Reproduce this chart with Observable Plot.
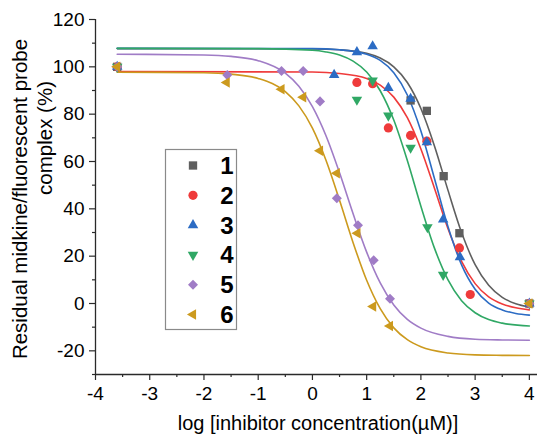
<!DOCTYPE html>
<html><head><meta charset="utf-8">
<script src="https://cdn.jsdelivr.net/npm/d3@7"></script>
<script src="https://cdn.jsdelivr.net/npm/@observablehq/plot@0.6"></script>
<style>
body{margin:0;background:#fff;font-family:"Liberation Sans",Arial,sans-serif;}
#chart{position:relative;width:537px;height:435px;}
</style></head><body><div id="chart"></div>
<script>
// ---- data ----
const seriesLabels = ["1", "2", "3", "4", "5", "6"];

// measured points (log concentration, residual %)
const px1 = [-3.6, 1.81, 2.11, 2.42, 2.71, 4.0];
const py1 = [100, 85.8, 81.4, 53.8, 29.7, 0];
const px2 = [-3.6, 0.82, 1.11, 1.40, 1.81, 2.11, 2.71, 2.91, 4.0];
const py2 = [100, 93.4, 92.9, 74.2, 71.0, 68.6, 23.5, 3.8, 0];
const px3 = [-3.6, 0.40, 0.82, 1.11, 1.40, 1.81, 2.11, 2.41, 2.72, 4.0];
const py3 = [100, 96.6, 106.2, 108.7, 91.1, 86.5, 68.1, 35.5, 19.6, 0];
const px4 = [-3.6, 0.82, 1.11, 1.40, 1.81, 2.12, 2.41, 4.0];
const py4 = [100, 86.1, 94.2, 79.4, 65.8, 32.2, 12.1, 0];
const px5 = [-3.6, -1.57, -0.57, -0.17, 0.14, 0.45, 0.84, 1.13, 1.43, 4.0];
const py5 = [100, 96.5, 98.2, 98.2, 85.4, 44.5, 33.1, 18.3, 2.0, 0];
const px6 = [-3.6, -1.58, -0.57, -0.17, 0.14, 0.45, 0.83, 1.12, 1.43, 4.0];
const py6 = [100, 93.4, 90.5, 87.2, 64.5, 55.0, 29.7, -1.3, -9.5, 0];

// fitted curves
const cx1 = [-3.6, 0, 0.5, 1, 1.25, 1.5, 1.75, 2, 2.25, 2.5, 2.75, 3, 3.25, 3.5, 3.75, 4];
const cy1 = [107.7, 107.6, 107.2, 105.7, 103.7, 100.0, 93.4, 82.4, 66.6, 47.8, 30.0, 16.4, 7.7, 2.6, -0.1, -1.5];
const cx2 = [-3.6, 0, 0.5, 1, 1.25, 1.5, 1.75, 2, 2.25, 2.5, 2.75, 3, 3.25, 3.5, 3.75, 4];
const cy2 = [98.0, 97.8, 97.2, 95.1, 92.3, 87.2, 78.5, 65.3, 48.7, 31.6, 17.8, 8.4, 2.8, -0.2, -1.8, -2.7];
const cx3 = [-3.6, 0, 0.5, 1, 1.25, 1.5, 1.75, 2, 2.25, 2.5, 2.75, 3, 3.25, 3.5, 3.75, 4];
const cy3 = [107.8, 107.7, 107.2, 105.3, 102.7, 97.5, 88.1, 72.9, 52.8, 32.4, 16.3, 6.0, 0.2, -2.7, -4.2, -4.9];
const cx4 = [-3.6, -1, 0, 0.25, 0.5, 0.75, 1, 1.25, 1.5, 1.75, 2, 2.25, 2.5, 2.75, 3, 3.25, 3.5, 4];
const cy4 = [107.8, 107.7, 107.0, 106.3, 105.0, 102.4, 97.8, 89.9, 77.5, 60.4, 41.1, 23.4, 10.0, 1.2, -3.9, -6.8, -8.3, -9.5];
const cx5 = [-3.6, -2, -1.5, -1, -0.5, -0.25, 0, 0.25, 0.5, 0.75, 1, 1.25, 1.5, 1.75, 2, 2.5, 3, 3.5, 4];
const cy5 = [105.3, 105.0, 104.4, 102.6, 97.3, 91.8, 83.2, 70.9, 55.2, 37.9, 21.7, 8.7, -0.6, -6.7, -10.4, -13.9, -15.1, -15.4, -15.5];
const cx6 = [-3.6, -2, -1.5, -1, -0.5, -0.25, 0, 0.25, 0.5, 0.75, 1, 1.25, 1.5, 1.75, 2, 2.5, 3, 3.5, 4];
const cy6 = [97.7, 97.5, 96.9, 95.1, 89.5, 83.5, 74.1, 60.5, 43.6, 25.7, 9.8, -2.2, -10.3, -15.3, -18.3, -20.9, -21.7, -21.9, -22.0];

// axes
const xMajor = [-4, -3, -2, -1, 0, 1, 2, 3, 4];
const xMinor = [-3.5, -2.5, -1.5, -0.5, 0.5, 1.5, 2.5, 3.5];
const yMajor = [-20, 0, 20, 40, 60, 80, 100, 120];
const yMinor = [-30, -10, 10, 30, 50, 70, 90, 110];
const xTitle = "log [inhibitor concentration(\u00b5M)]";
const yTitle1 = "Residual midkine/fluorescent probe";
const yTitle2 = "complex (%)";

// ---- styles ----
const styles = [
  {color: "#5f5f5f", symbol: "square",   rotate: 0,   r: 4.7},
  {color: "#ef3b3b", symbol: "circle",   rotate: 0,   r: 4.6},
  {color: "#2c6cc4", symbol: "triangle", rotate: 0,   r: 3.9},
  {color: "#30a865", symbol: "triangle", rotate: 180, r: 3.9},
  {color: "#a07cc6", symbol: "square",   rotate: 45,  r: 4.0},
  {color: "#cc9a1e", symbol: "triangle", rotate: -90, r: 3.9}
];

const PX = [px1, px2, px3, px4, px5, px6];
const PY = [py1, py2, py3, py4, py5, py6];
const CX = [cx1, cx2, cx3, cx4, cx5, cx6];
const CY = [cy1, cy2, cy3, cy4, cy5, cy6];

const pointSets = PX.map((xs, i) => xs.map((x, j) => ({x, y: PY[i][j]})));
const curveSets = CX.map((xs, i) => xs.map((x, j) => ({x, y: CY[i][j]})));

const fmt = d => String(d);
const axisColor = "#2a2a2a";

const marks = [
  Plot.ruleX([-4], {stroke: axisColor, strokeWidth: 1.3}),
  Plot.ruleY([-30], {stroke: axisColor, strokeWidth: 1.3}),
  Plot.axisX({ticks: xMajor, tickSize: 6, tickPadding: 6, fontSize: 19, tickFormat: fmt, label: null, stroke: axisColor, strokeWidth: 1.2}),
  Plot.axisX({ticks: xMinor, tickSize: 3, tickFormat: () => "", label: null, stroke: axisColor, strokeWidth: 1.2}),
  Plot.axisY({ticks: yMajor, tickSize: 6, tickPadding: 5, fontSize: 19, tickFormat: fmt, label: null, stroke: axisColor, strokeWidth: 1.2}),
  Plot.axisY({ticks: yMinor, tickSize: 3, tickFormat: () => "", label: null, stroke: axisColor, strokeWidth: 1.2}),
  ...curveSets.map((c, i) => Plot.line(c, {x: "x", y: "y", stroke: styles[i].color, strokeWidth: 1.6, curve: "monotone-x"})),
  ...pointSets.map((p, i) => Plot.dot(p, {x: "x", y: "y", fill: styles[i].color, stroke: "none", symbol: styles[i].symbol, rotate: styles[i].rotate, r: styles[i].r}))
];

const chart = Plot.plot({
  width: 537, height: 435,
  marginLeft: 95, marginRight: 0, marginTop: 19, marginBottom: 61,
  x: {domain: [-4, 4.15]},
  y: {domain: [-30, 120]},
  style: {fontFamily: "'Liberation Sans', Arial, sans-serif", color: "#000", background: "#fff", overflow: "visible"},
  marks
});
document.getElementById("chart").appendChild(chart);

// ---- titles and legend ----
const svg = d3.select(chart);
svg.append("text").attr("x", 318).attr("y", 430).attr("text-anchor", "middle")
  .attr("font-size", 20).attr("fill", "#000").text(xTitle);
svg.append("text").attr("transform", "translate(27,199) rotate(-90)").attr("text-anchor", "middle")
  .attr("font-size", 20.5).attr("fill", "#000").text(yTitle1);
svg.append("text").attr("transform", "translate(52,138) rotate(-90)").attr("text-anchor", "middle")
  .attr("font-size", 20.5).attr("fill", "#000").text(yTitle2);

const lg = svg.append("g");
lg.append("rect").attr("x", 165.5).attr("y", 149.5).attr("width", 71).attr("height", 180)
  .attr("fill", "#fff").attr("stroke", "#8a8a8a").attr("stroke-width", 1.2);
const symMap = {square: d3.symbolSquare, circle: d3.symbolCircle, triangle: d3.symbolTriangle};
seriesLabels.forEach((lab, i) => {
  const cy = 165.5 + i * 29.8;
  const s = styles[i];
  lg.append("path")
    .attr("d", d3.symbol(symMap[s.symbol], Math.PI * s.r * s.r)())
    .attr("transform", `translate(193,${cy}) rotate(${s.rotate})`)
    .attr("fill", s.color);
  lg.append("text").attr("x", 227).attr("y", cy + 8.5).attr("text-anchor", "middle")
    .attr("font-size", 24).attr("font-weight", "bold").attr("fill", "#000").text(lab);
});
</script></body></html>
